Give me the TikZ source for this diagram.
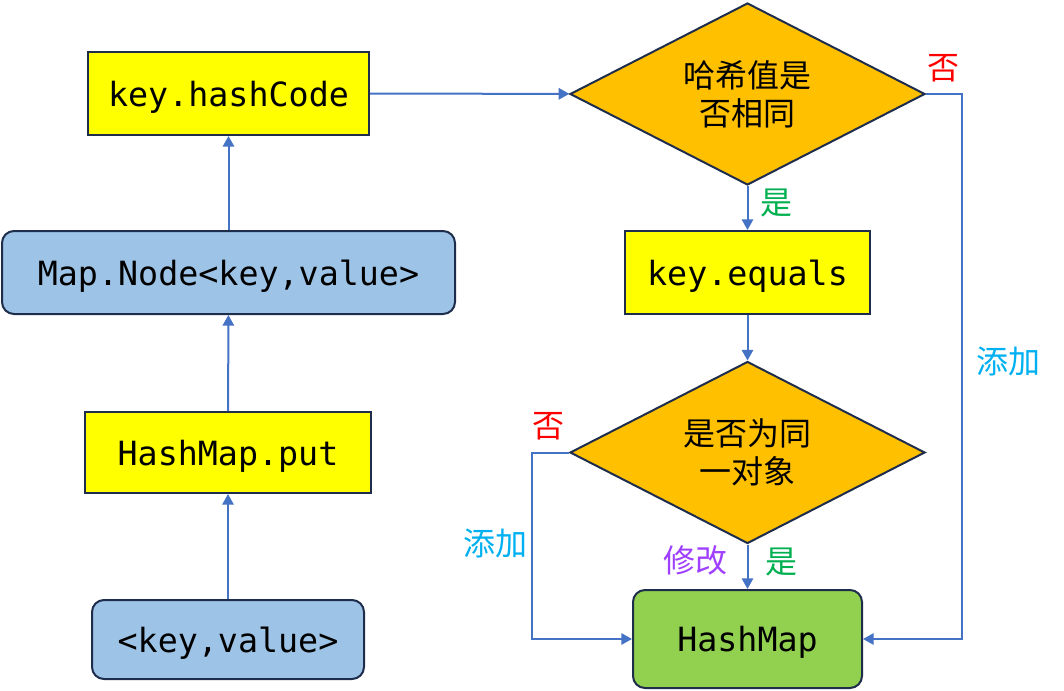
\documentclass[tikz,border=0pt]{standalone}
\usepackage{fontspec}
\setmonofont{DejaVu Sans Mono}
\newfontfamily\zhfont{Noto Sans CJK SC}
\usetikzlibrary{arrows.meta,shapes.geometric}
\definecolor{edgeblue}{HTML}{4472C4}
\definecolor{boxline}{HTML}{1F2D4D}
\definecolor{boxyellow}{HTML}{FFFF00}
\definecolor{boxblue}{HTML}{9DC3E6}
\definecolor{boxorange}{HTML}{FFC000}
\definecolor{boxgreen}{HTML}{92D050}
\definecolor{lblred}{HTML}{FF0000}
\definecolor{lblgreen}{HTML}{00B050}
\definecolor{lblcyan}{HTML}{00B0F0}
\definecolor{lblpurple}{HTML}{9F3FFF}

\begin{document}
\begin{tikzpicture}[x=0.75pt,y=-0.75pt,
  codebox/.style={draw=boxline, line width=1.5pt, inner sep=0pt,
    text height=18.75pt, text depth=0pt,
    font=\ttfamily\fontsize{25}{30}\selectfont},
  ybox/.style={codebox, fill=boxyellow},
  bbox/.style={codebox, fill=boxblue, rounded corners=9pt},
  decide/.style={diamond, draw=boxline, line width=1.5pt, fill=boxorange,
    inner sep=0pt, shape aspect=2, minimum width=266.25pt, minimum height=136.5pt,
    align=center, font=\zhfont\fontsize{24}{28.5}\selectfont},
  conn/.style={draw=edgeblue, line width=1.5pt, -{Triangle[length=8pt,width=8.5pt]}},
  lbl/.style={inner sep=0pt, font=\zhfont\fontsize{24}{28}\selectfont}]
\useasboundingbox (0,0) rectangle (1064,690);
% left column
\node[bbox, minimum width=204pt, minimum height=59.25pt] (kv) at (228,639.5) {<key,value>};
\node[ybox, minimum width=214.5pt, minimum height=60.75pt] (put) at (228,452.5) {HashMap.put};
\node[bbox, minimum width=339.75pt, minimum height=62.25pt] (mapnode) at (228.5,272.5) {Map.Node<key,value>};
\node[ybox, minimum width=210.75pt, minimum height=62.25pt] (hash) at (228.5,93.5) {key.hashCode};
% right column
\node[decide] (samehash) at (747.5,94) {哈希值是\\否相同};
\node[ybox, minimum width=183.75pt, minimum height=62.25pt] (equals) at (747.5,272.5) {key.equals};
\node[decide] (sameobj) at (747.5,452.5) {是否为同\\一对象};
\node[codebox, fill=boxgreen, rounded corners=9pt, minimum width=171.75pt, minimum height=73.5pt] (hm) at (747.5,639) {HashMap};
\coordinate (rbend) at (962,94);
\coordinate (lbend) at (532,452.5);
% connectors
\draw[conn] (kv) -- (put);
\draw[conn] (put) -- (mapnode);
\draw[conn] (mapnode) -- (hash);
\draw[conn] (hash) -- (samehash);
\draw[conn] (samehash) -- (equals);
\draw[conn] (equals) -- (sameobj);
\draw[conn] (sameobj) -- (hm);
\draw[conn] (samehash.east) -- (rbend) |- (hm.east);
\draw[conn] (sameobj.west) -- (lbend) |- (hm.west);
% labels
\node[lbl, text=lblred] (no1) at (943,68) {否};
\node[lbl, text=lblgreen] (yes1) at (776,203) {是};
\node[lbl, text=lblcyan] (add1) at (1008,361) {添加};
\node[lbl, text=lblred] (no2) at (548,426) {否};
\node[lbl, text=lblcyan] (add2) at (495,543) {添加};
\node[lbl, text=lblpurple] (mod) at (695,560) {修改};
\node[lbl, text=lblgreen] (yes2) at (781,562) {是};
\end{tikzpicture}
\end{document}
